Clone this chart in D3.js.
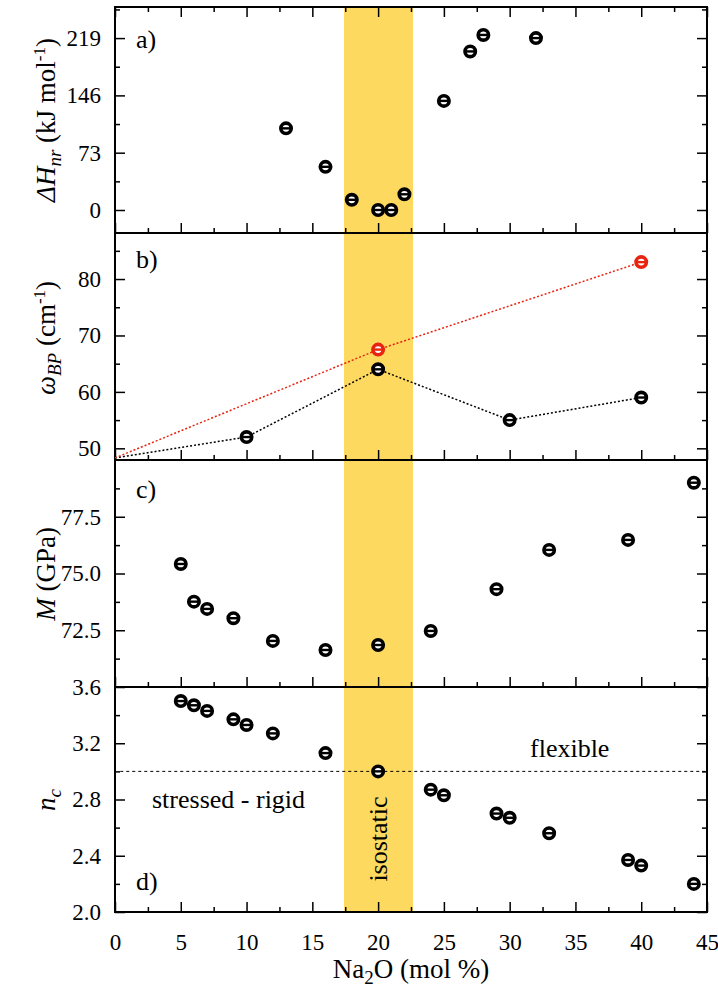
<!DOCTYPE html>
<html>
<head>
<meta charset="utf-8">
<script src="https://cdn.jsdelivr.net/npm/d3@7"></script>
<style>
  @font-face { font-family: "ChartSerif"; src: local("Liberation Serif"), local("LiberationSerif"); font-style: normal; }
  @font-face { font-family: "ChartSerif"; src: local("Liberation Serif Italic"), local("LiberationSerif-Italic"); font-style: italic; }
  body { margin: 0; background: #fff; font-family: "Times New Roman", serif; }
  #chart, #chart svg { font-family: "Times New Roman", serif; }
</style>
</head>
<body>
<div id="chart"></div>
<script>
// x values (Na2O mol %) and panel values
var xTicks = [0, 5, 10, 15, 20, 25, 30, 35, 40, 45];
var isoBand = [17.4, 22.65];

// a) activation enthalpy
var dhX = [13, 16, 18, 20, 21, 22, 25, 27, 28, 32];
var dhY = [104, 55, 13, 0, 0, 20, 139, 202, 223, 219];
var dhTicks = [0, 73, 146, 219];

// b) boson peak frequency
var omegaStart = 48.3;   // both dotted lines start from x = 0
var omegaBlackX = [10, 20, 30, 40];
var omegaBlackY = [52, 64, 55, 59];
var omegaRedX = [20, 40];
var omegaRedY = [67.5, 83];
var omegaTicks = [50, 60, 70, 80];

// c) modulus
var mX = [5, 6, 7, 9, 12, 16, 20, 24, 29, 33, 39, 44];
var mY = [75.42, 73.76, 73.44, 73.03, 72.03, 71.63, 71.85, 72.47, 74.31, 76.04, 76.48, 79.0];
var mTicks = [72.5, 75.0, 77.5];

// d) mean coordination
var ncX = [5, 6, 7, 9, 10, 12, 16, 20, 24, 25, 29, 30, 33, 39, 40, 44];
var ncY = [3.5, 3.47, 3.43, 3.37, 3.33, 3.27, 3.13, 3.0, 2.87, 2.83, 2.70, 2.67, 2.56, 2.37, 2.33, 2.20];
var ncTicks = [2.0, 2.4, 2.8, 3.2, 3.6];
var ncLine = 3.0;

var svgWidth = 718;
var svgHeight = 1006;
var left = 115, right = 707;
var fontList = '"Times New Roman", ChartSerif, serif';

var svg = d3.select("#chart")
  .append("svg")
  .attr("width", svgWidth)
  .attr("height", svgHeight)
  .style("font-family", fontList);

// every text goes through here so it gets the serif face
function addText(parent, size) {
  return parent.append("text")
    .attr("font-family", "Times New Roman")
    .style("font-family", fontList)
    .attr("font-size", size)
    .attr("fill", "#000");
}

var xScale = d3.scaleLinear().domain([0, 45]).range([left, right]);

// panel layout
var panels = [
  { id: "a", top: 7,   bottom: 233, domain: [-29.3, 258.6], major: dhTicks, step: 73, fmt: d3.format("d") },
  { id: "b", top: 233, bottom: 460, domain: [47.93, 88.16], major: omegaTicks, step: 10, fmt: d3.format("d") },
  { id: "c", top: 460, bottom: 687, domain: [70, 80], major: mTicks, step: 2.5, fmt: d3.format(".1f") },
  { id: "d", top: 687, bottom: 912, domain: [2.0, 3.6], major: ncTicks, step: 0.4, fmt: d3.format(".1f") }
];
panels.forEach(function(p) {
  p.y = d3.scaleLinear().domain(p.domain).range([p.bottom, p.top]);
  // minor ticks halfway between majors, inside the domain
  p.minor = [];
  for (var v = p.major[0] - p.step * 1.5; v <= p.domain[1]; v += p.step) {
    if (v >= p.domain[0]) p.minor.push(+v.toFixed(4));
  }
});

var xMinor = xTicks.slice(0, -1).map(function(d) { return d + 2.5; });

// isostatic band behind everything
svg.append("rect")
  .attr("x", xScale(isoBand[0]))
  .attr("y", 7)
  .attr("width", xScale(isoBand[1]) - xScale(isoBand[0]))
  .attr("height", 912 - 7)
  .attr("fill", "#fed95f");

function styleAxis(g) {
  g.attr("font-family", "Times New Roman").attr("font-size", null);
  g.select(".domain").remove();
  g.selectAll(".tick line").attr("stroke", "#000").attr("stroke-width", 1.5);
  g.selectAll(".tick text")
    .attr("font-family", "Times New Roman")
    .style("font-family", fontList)
    .attr("font-size", "23px")
    .attr("fill", "#000");
}

panels.forEach(function(p) {
  var g = svg.append("g");

  // left axis with labels
  g.append("g")
    .attr("transform", `translate(${left},0)`)
    .call(d3.axisLeft(p.y).tickValues(p.major).tickSizeInner(-10).tickSizeOuter(0).tickPadding(14).tickFormat(p.fmt))
    .call(styleAxis);
  g.append("g")
    .attr("transform", `translate(${left},0)`)
    .call(d3.axisLeft(p.y).tickValues(p.minor).tickSizeInner(-5).tickSizeOuter(0).tickFormat(""))
    .call(styleAxis);

  // right axis, ticks only
  g.append("g")
    .attr("transform", `translate(${right},0)`)
    .call(d3.axisRight(p.y).tickValues(p.major).tickSizeInner(-10).tickSizeOuter(0).tickFormat(""))
    .call(styleAxis);
  g.append("g")
    .attr("transform", `translate(${right},0)`)
    .call(d3.axisRight(p.y).tickValues(p.minor).tickSizeInner(-5).tickSizeOuter(0).tickFormat(""))
    .call(styleAxis);

  // bottom ticks for every panel, labels only on the last one
  g.append("g")
    .attr("transform", `translate(0,${p.bottom})`)
    .call(d3.axisBottom(xScale).tickValues(xTicks).tickSizeInner(-10).tickSizeOuter(0).tickPadding(22)
      .tickFormat(p.id === "d" ? d3.format("d") : ""))
    .call(styleAxis);
  g.append("g")
    .attr("transform", `translate(0,${p.bottom})`)
    .call(d3.axisBottom(xScale).tickValues(xMinor).tickSizeInner(-5).tickSizeOuter(0).tickFormat(""))
    .call(styleAxis);

  if (p.id === "a") {
    g.append("g")
      .attr("transform", `translate(0,${p.top})`)
      .call(d3.axisTop(xScale).tickValues(xTicks).tickSizeInner(-10).tickSizeOuter(0).tickFormat(""))
      .call(styleAxis);
    g.append("g")
      .attr("transform", `translate(0,${p.top})`)
      .call(d3.axisTop(xScale).tickValues(xMinor).tickSizeInner(-5).tickSizeOuter(0).tickFormat(""))
      .call(styleAxis);
  }

  // frame
  g.append("rect")
    .attr("x", left).attr("y", p.top)
    .attr("width", right - left).attr("height", p.bottom - p.top)
    .attr("fill", "none").attr("stroke", "#000").attr("stroke-width", 2);

  // panel letter
  var labelY = { a: 48, b: 268, c: 498, d: 890 };
  addText(g, "26px")
    .attr("x", 136).attr("y", labelY[p.id])
    .text(p.id + ")");
});

// marker: ring with a bar through the middle
function drawMarkers(xs, ys, yScale, color) {
  var m = svg.append("g").selectAll("g")
    .data(xs.map(function(d, i) { return [d, ys[i]]; }))
    .enter()
    .append("g")
    .attr("transform", d => `translate(${xScale(d[0])},${yScale(d[1])})`);
  m.append("circle")
    .attr("r", 5.2)
    .attr("fill", "#fff")
    .attr("stroke", color)
    .attr("stroke-width", 3.6);
  m.append("line")
    .attr("x1", -4).attr("x2", 4)
    .attr("stroke", color)
    .attr("stroke-width", 2.4);
}

// a)
drawMarkers(dhX, dhY, panels[0].y, "#000");

// b) dotted lines then markers
var pb = panels[1];
var lineB = d3.line().x(d => xScale(d[0])).y(d => pb.y(d[1]));
var blackPts = [[0, omegaStart]].concat(omegaBlackX.map((d, i) => [d, omegaBlackY[i]]));
var redPts = [[0, omegaStart]].concat(omegaRedX.map((d, i) => [d, omegaRedY[i]]));
svg.append("path").attr("d", lineB(blackPts))
  .attr("fill", "none").attr("stroke", "#000").attr("stroke-width", 1.5).attr("stroke-dasharray", "2,2");
svg.append("path").attr("d", lineB(redPts))
  .attr("fill", "none").attr("stroke", "#e8230f").attr("stroke-width", 1.5).attr("stroke-dasharray", "2,2");
drawMarkers(omegaBlackX, omegaBlackY, pb.y, "#000");
drawMarkers(omegaRedX, omegaRedY, pb.y, "#e8230f");

// c)
drawMarkers(mX, mY, panels[2].y, "#000");

// d) threshold line, region labels, points
var pd = panels[3];
svg.append("line")
  .attr("x1", xScale(0.4)).attr("x2", right)
  .attr("y1", pd.y(ncLine)).attr("y2", pd.y(ncLine))
  .attr("stroke", "#000").attr("stroke-width", 1).attr("stroke-dasharray", "3,3");
addText(svg, "26px")
  .attr("x", 152).attr("y", 808)
  .text("stressed - rigid");
addText(svg, "26px")
  .attr("x", 530).attr("y", 757)
  .text("flexible");
addText(svg, "26px")
  .attr("transform", "translate(387,839) rotate(-90)")
  .attr("text-anchor", "middle")
  .text("isostatic");
drawMarkers(ncX, ncY, pd.y, "#000");

// y axis titles
function yTitle(cy, parts) {
  var t = addText(svg, "27px")
    .attr("transform", `translate(55,${cy}) rotate(-90)`)
    .attr("text-anchor", "middle");
  parts.forEach(function(s) {
    var ts = t.append("tspan").text(s.t);
    if (s.i) ts.attr("font-style", "italic");
    if (s.sz) ts.attr("font-size", s.sz);
    if (s.dy) ts.attr("dy", s.dy);
  });
}
yTitle(120, [
  { t: "ΔH", i: true },
  { t: "nr", i: true, sz: "19px", dy: 6 },
  { t: " (kJ mol", dy: -6 },
  { t: "-1", sz: "17px", dy: -10 },
  { t: ")", dy: 10 }
]);
yTitle(338, [
  { t: "ω", i: true },
  { t: "BP", i: true, sz: "19px", dy: 6 },
  { t: " (cm", dy: -6 },
  { t: "-1", sz: "17px", dy: -10 },
  { t: ")", dy: 10 }
]);
yTitle(574, [
  { t: "M", i: true },
  { t: " (GPa)" }
]);
yTitle(800, [
  { t: "n", i: true },
  { t: "c", i: true, sz: "19px", dy: 6 }
]);

// x axis title
var xt = addText(svg, "27px")
  .attr("x", (left + right) / 2).attr("y", 978)
  .attr("text-anchor", "middle");
xt.append("tspan").text("Na");
xt.append("tspan").text("2").attr("font-size", "19px").attr("dy", 6);
xt.append("tspan").text("O (mol %)").attr("dy", -6);
</script>
</body>
</html>
